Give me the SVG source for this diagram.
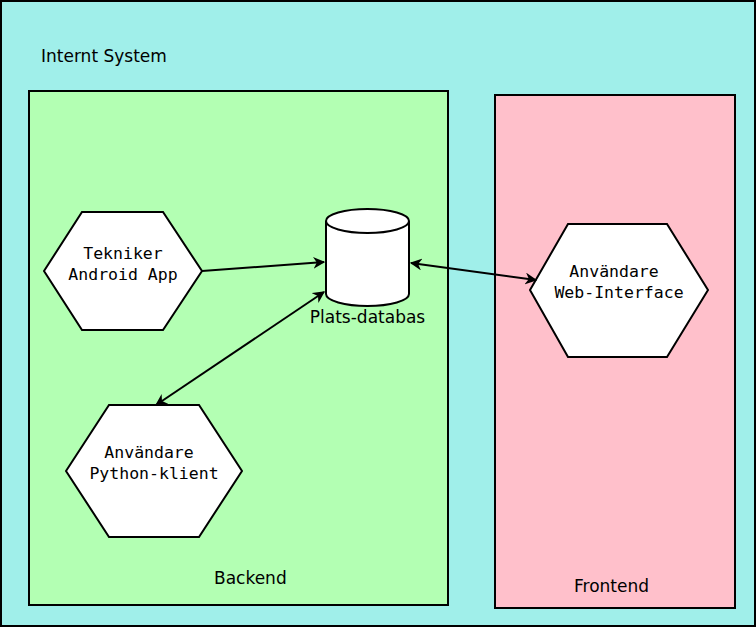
<svg xmlns="http://www.w3.org/2000/svg" width="756" height="627" viewBox="0 0 756 627">
<defs>
<style>
.lbl{font-family:"DejaVu Sans",sans-serif;font-size:17px;fill:#000}
.mono{font-family:"DejaVu Sans Mono",monospace;font-size:16.5px;fill:#000;text-anchor:middle}
.shape{fill:#fff;stroke:#000;stroke-width:2}
.edge{fill:none;stroke:#000;stroke-width:2}
</style>
<marker id="arrB" viewBox="0 0 10 10" refX="9" refY="5" markerWidth="12" markerHeight="12" markerUnits="userSpaceOnUse" orient="auto-start-reverse">
<path d="M0,0 L10,5 L0,10 L3,5 z" fill="#000"/>
</marker>
</defs>
<g id="internt-system">
<rect x="1" y="1" width="754" height="625" fill="#a0efea" stroke="#000" stroke-width="2"/>
<text class="lbl" x="41" y="62">Internt System</text>
</g>
<g id="backend">
<rect x="29" y="91" width="419" height="514" fill="#b3ffb3" stroke="#000" stroke-width="2"/>
<text class="lbl" x="214" y="584">Backend</text>
</g>
<g id="frontend">
<rect x="495" y="95" width="240" height="513" fill="#ffc0cb" stroke="#000" stroke-width="2"/>
<text class="lbl" x="574" y="592">Frontend</text>
</g>
<g id="tekniker">
<polygon class="shape" points="44,271 82,212 163,212 202,271 163,330 82,330"/>
<text class="mono" x="123" y="259">Tekniker</text>
<text class="mono" x="123" y="280">Android App</text>
</g>
<g id="plats-databas">
<path class="shape" d="M326,221 L326,294 A41.5,12 0 0 0 409,294 L409,221 A41.5,12 0 0 0 326,221 Z"/>
<path class="edge" d="M326,221 A41.5,12 0 0 0 409,221"/>
<text class="lbl" x="367.5" y="323" text-anchor="middle">Plats-databas</text>
</g>
<g id="web-interface">
<polygon class="shape" points="530,290 568,224 667,224 708,290 667,357 568,357"/>
<text class="mono" x="619" y="277" xml:space="preserve">Användare </text>
<text class="mono" x="619" y="298">Web-Interface</text>
</g>
<g id="python-klient">
<polygon class="shape" points="66,471 109,405 199,405 242,471 199,537 109,537"/>
<text class="mono" x="154" y="458" xml:space="preserve">Användare </text>
<text class="mono" x="154" y="479">Python-klient</text>
</g>
<g id="connectors">
<line class="edge" x1="202" y1="271" x2="324" y2="262" marker-end="url(#arrB)"/>
<line class="edge" x1="411" y1="263" x2="536" y2="280" marker-start="url(#arrB)" marker-end="url(#arrB)"/>
<line class="edge" x1="324" y1="292" x2="156" y2="405" marker-start="url(#arrB)" marker-end="url(#arrB)"/>
</g>
</svg>
